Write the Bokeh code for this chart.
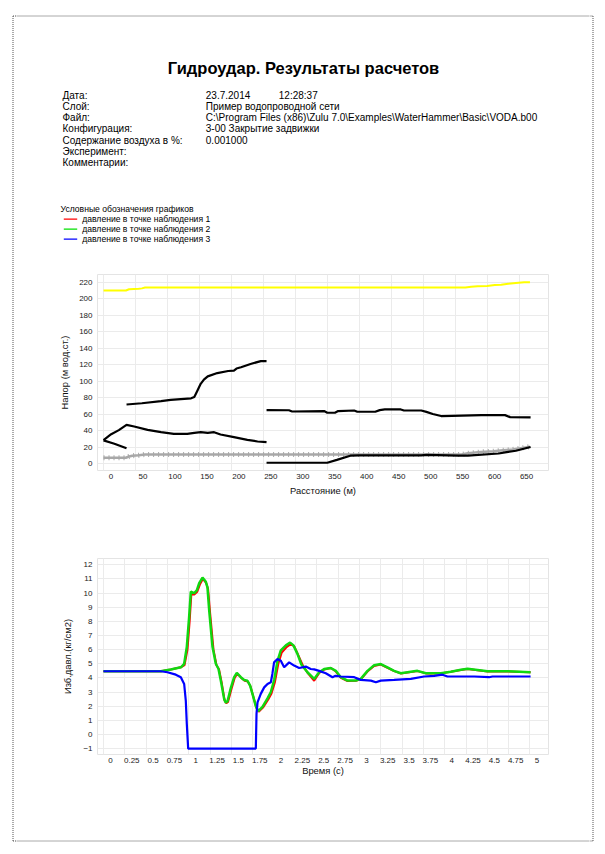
from bokeh.plotting import figure
from bokeh.layouts import row, column
from bokeh.models import Range1d, FixedTicker, LinearAxis, Grid
from bokeh.embed import file_html
from bokeh.resources import INLINE
from bokeh.core.properties import value

FONT = "Liberation Sans"

# ---------------- header data ----------------
title_text = "Гидроудар. Результаты расчетов"
info_labels = ["Дата:", "Слой:", "Файл:", "Конфигурация:", "Содержание воздуха в %:",
               "Эксперимент:", "Комментарии:"]
info_values = ["23.7.2014", "Пример водопроводной сети",
               "C:\\Program Files (x86)\\Zulu 7.0\\Examples\\WaterHammer\\Basic\\VODA.b00",
               "3-00 Закрытие задвижки", "0.001000", "", ""]
info_time = "12:28:37"
legend_title = "Условные обозначения графиков"
legend_labels = ["давление в точке наблюдения 1", "давление в точке наблюдения 2",
                 "давление в точке наблюдения 3"]
legend_colors = ["#ff0000", "#00e000", "#0000ff"]

# ---------------- top chart data (Напор vs Расстояние) ----------------
x_ticks_top = [0, 50, 100, 150, 200, 250, 300, 350, 400, 450, 500, 550, 600, 650]
y_ticks_top = [0, 20, 40, 60, 80, 100, 120, 140, 160, 180, 200, 220]

yellow_x = [0, 35, 40, 55, 60, 65, 300, 566, 575, 585, 600, 612, 622, 633, 645, 658, 667]
yellow_y = [210, 210, 211.5, 212, 212.5, 213.5, 213.5, 213.5, 214.5, 215, 215.5, 216.5, 217, 218, 219, 220, 220]

gray_x = [0, 35, 40, 45, 55, 65, 300, 560, 570, 590, 610, 625, 640, 655, 667]
gray_y = [7.5, 7.5, 9, 10, 10.5, 11.5, 11.5, 11.5, 13, 14.5, 15.5, 16.5, 17.5, 19.5, 21]

black_a_x = [0, 17, 36]
black_a_y = [28.5, 24.5, 19]

black_b_x = [0, 12, 24, 36, 48, 69, 90, 110, 131, 142, 152, 163, 173, 183, 204, 225, 241, 255]
black_b_y = [29, 36, 41, 47.4, 45.4, 41.3, 38.5, 36.5, 36.5, 37.7, 38.5, 37.7, 38.5, 35.7, 32.5, 29.2, 27.2, 26.4]

black_c_x = [36, 60, 90, 105, 137, 142, 147, 152, 157, 163, 178, 195, 204, 208, 215, 230, 246, 255]
black_c_y = [72, 73.5, 76, 77.5, 79.5, 81, 89, 97, 102, 106, 110, 112.5, 113, 115.5, 117, 121, 124.5, 124.5]

black_d_x = [255, 290, 295, 345, 350, 362, 367, 392, 397, 425, 432, 440, 465, 470, 497, 505, 515,
             528, 545, 591, 628, 636, 668]
black_d_y = [65.2, 65, 63.5, 64, 62, 62, 64, 64.7, 63.2, 63.2, 65.2, 66, 66, 64.7, 64.7, 63, 60.5,
             58, 58.3, 59.1, 59.1, 56.7, 56.3]

black_e_x = [255, 350, 365, 386, 400, 497, 505, 555, 570, 618, 628, 645, 668]
black_e_y = [1.5, 1.5, 5, 10, 10.3, 10.3, 11, 10, 10, 12.7, 14, 16, 20.5]

# ---------------- bottom chart data (Изб.давл. vs Время) ----------------
x_ticks_bot = [0, 0.25, 0.5, 0.75, 1, 1.25, 1.5, 1.75, 2, 2.25, 2.5, 2.75, 3, 3.25, 3.5, 3.75,
               4, 4.25, 4.5, 4.75, 5]
x_tick_labels_bot = ["0", "0.25", "0.5", "0.75", "1", "1.25", "1.5", "1.75", "2", "2.25", "2.5",
                     "2.75", "3", "3.25", "3.5", "3.75", "4", "4.25", "4.5", "4.75", "5"]
y_ticks_bot = [-1, 0, 1, 2, 3, 4, 5, 6, 7, 8, 9, 10, 11, 12]

green_t = [0, 0.672, 0.789, 0.907, 0.946, 0.977, 1.004, 1.024, 1.063, 1.094, 1.122, 1.161, 1.2,
           1.219, 1.239, 1.278, 1.317, 1.348, 1.376, 1.415, 1.434, 1.454, 1.493, 1.532, 1.563,
           1.61, 1.649, 1.688, 1.719, 1.759, 1.786, 1.813, 1.864, 1.923, 1.962, 2.001, 2.04,
           2.079, 2.138, 2.188, 2.227, 2.274, 2.32, 2.391, 2.47, 2.528, 2.587, 2.665, 2.724,
           2.782, 2.861, 2.958, 3.017, 3.095, 3.173, 3.251, 3.329, 3.407, 3.485, 3.564, 3.681,
           3.779, 3.955, 4.072, 4.19, 4.268, 4.385, 4.502, 4.737, 5.007]
green_p = [4.47, 4.47, 4.6, 4.75, 5.0, 6.2, 8.3, 10.1, 10.0, 10.2, 10.7, 11.1, 10.8,
           10.4, 8.8, 6.2, 5.0, 4.65, 3.8, 2.5, 2.25, 2.35, 3.3, 4.05, 4.35,
           4.05, 3.85, 3.8, 3.45, 2.6, 2.0, 1.65, 1.95, 2.55, 3.0, 3.85, 5.2,
           5.95, 6.3, 6.5, 6.3, 5.7, 4.95, 4.4, 3.93, 4.4, 4.63, 4.7, 4.5,
           4.05, 3.81, 3.81, 3.93, 4.5, 4.9, 4.98, 4.75, 4.5, 4.33, 4.4, 4.5,
           4.33, 4.33, 4.44, 4.58, 4.65, 4.56, 4.47, 4.47, 4.4]

red_t = [0, 0.672, 0.789, 0.907, 0.95, 0.985, 1.01, 1.03, 1.065, 1.1, 1.13, 1.165, 1.205,
         1.226, 1.25, 1.29, 1.325, 1.355, 1.385, 1.42, 1.44, 1.46, 1.5, 1.538, 1.568,
         1.615, 1.655, 1.692, 1.724, 1.764, 1.792, 1.82, 1.87, 1.93, 1.97, 2.01, 2.05,
         2.09, 2.15, 2.2, 2.24, 2.285, 2.34, 2.4, 2.47, 2.53, 2.59, 2.665, 2.724,
         2.782, 2.861, 2.958, 3.017, 3.095, 3.173, 3.251, 3.329, 3.407, 3.485, 3.564, 3.681,
         3.779, 3.955, 4.072, 4.19, 4.268, 4.385, 4.502, 4.737, 5.007]
red_p = [4.47, 4.47, 4.6, 4.75, 4.9, 6.0, 8.0, 9.9, 9.9, 10.1, 10.6, 11.0, 10.7,
         10.3, 8.6, 6.0, 4.9, 4.6, 3.7, 2.4, 2.2, 2.3, 3.2, 4.0, 4.3,
         4.0, 3.8, 3.75, 3.4, 2.5, 1.9, 1.6, 1.9, 2.45, 2.9, 3.7, 5.0,
         5.8, 6.2, 6.4, 6.2, 5.6, 4.85, 4.3, 3.8, 4.35, 4.6, 4.7, 4.45,
         4.0, 3.78, 3.8, 3.9, 4.45, 4.85, 4.95, 4.72, 4.48, 4.32, 4.38, 4.48,
         4.32, 4.32, 4.43, 4.56, 4.63, 4.55, 4.46, 4.46, 4.4]

blue_t = [0, 0.672, 0.75, 0.848, 0.907, 0.946, 0.965, 0.977, 0.993, 1.786, 1.794, 1.806, 1.844,
          1.884, 1.923, 1.962, 1.98, 2.0, 2.04, 2.079, 2.118, 2.177, 2.235, 2.294, 2.372, 2.43,
          2.47, 2.528, 2.606, 2.685, 2.72, 2.782, 2.94, 3.017, 3.134, 3.193, 3.251, 3.407,
          3.603, 3.759, 3.877, 3.974, 4.033, 4.346, 4.52, 4.56, 5.007]
blue_p = [4.47, 4.47, 4.4, 4.23, 4.05, 3.57, 2.4, 0.74, -1, -1, 1.45, 2.27, 2.87,
          3.33, 3.57, 3.69, 4.28, 5.1, 5.34, 5.22, 4.75, 5.1, 4.87, 4.7, 4.8, 4.63,
          4.6, 4.5, 4.33, 4.05, 4.15, 4.1, 4.05, 3.86, 3.81, 3.69, 3.81, 3.86,
          3.93, 4.1, 4.15, 4.23, 4.1, 4.1, 4.05, 4.1, 4.1]

# ---------------- page geometry (pixels, page origin at top-left) ----------------
LS, CW, RS = 16, 573, 11                     # left strip, centre column, right strip widths
H_HEAD, H_C1, H_MID, H_C2, H_FOOT = 262, 243, 41, 236, 68
H_TOTAL = H_HEAD + H_C1 + H_MID + H_C2 + H_FOOT
FRAME_W = 451
BORDER = dict(line_color="#555555", line_width=1, line_dash="1 1")


def blank(w, h):
    f = figure(width=w, height=h, x_range=Range1d(0, w), y_range=Range1d(h, 0),
               x_axis_location=None, y_axis_location=None, min_border=0,
               output_backend="svg", toolbar_location=None, frame_align=False)
    f.outline_line_color = None
    f.grid.visible = False
    f.background_fill_color = "white"
    f.border_fill_color = "white"
    return f


# ---------------- header ----------------
head = blank(CW, H_HEAD)
head.segment(x0=[0], y0=[15.5], x1=[CW], y1=[15.5], **BORDER)
head.text(x=[303 - LS], y=[67], text=[title_text], text_font=value(FONT), text_font_size="16.5px",
          text_font_style="bold", text_align="center", text_baseline="middle", text_color="black")
row_y = [94.5 + 11.3 * i for i in range(len(info_labels))]
head.text(x=[62 - LS] * len(info_labels), y=row_y, text=info_labels, text_font=value(FONT),
          text_font_size="10px", text_baseline="middle", text_color="black")
head.text(x=[205.3 - LS] * len(info_values), y=row_y, text=info_values, text_font=value(FONT),
          text_font_size="10px", text_baseline="middle", text_color="black")
head.text(x=[278.3 - LS], y=[row_y[0]], text=[info_time], text_font=value(FONT),
          text_font_size="10px", text_baseline="middle", text_color="black")
head.text(x=[60 - LS], y=[208.3], text=[legend_title], text_font=value(FONT), text_font_size="8.6px",
          text_baseline="middle", text_color="black")
leg_y = [218.7, 228.7, 238.7]
head.segment(x0=[63.3 - LS] * 3, y0=leg_y, x1=[76.7 - LS] * 3, y1=leg_y, line_color=legend_colors,
             line_width=1.2)
head.text(x=[81.7 - LS] * 3, y=leg_y, text=legend_labels, text_font=value(FONT), text_font_size="8.6px",
          text_baseline="middle", text_color="black")


def make_chart(height, top, bottom, xr, yr, xticks, label_shift_px):
    p = figure(width=CW, height=height, x_range=xr, y_range=yr, x_axis_location=None,
               min_border_left=81, min_border_right=CW - 81 - FRAME_W,
               min_border_top=top, min_border_bottom=bottom,
               output_backend="svg", toolbar_location=None, frame_align=False)
    p.outline_line_color = "#e4e4e4"
    p.background_fill_color = "white"
    p.border_fill_color = "white"
    # x axis labels sit just right of their grid line, as in the original print
    d = label_shift_px * (xr.end - xr.start) / FRAME_W
    p.extra_x_ranges = {"lab": Range1d(xr.start - d, xr.end - d)}
    xax = LinearAxis(x_range_name="lab", ticker=FixedTicker(ticks=xticks))
    p.add_layout(xax, "below")
    p.add_layout(Grid(dimension=0, ticker=FixedTicker(ticks=xticks), grid_line_color="#ebebeb"))
    p.ygrid.grid_line_color = "#ebebeb"
    for ax in (xax, p.yaxis[0]):
        ax.axis_line_color = None
        ax.major_tick_line_color = None
        ax.minor_tick_line_color = None
        ax.major_tick_in = 0
        ax.major_tick_out = 0
        ax.major_label_text_font = FONT
        ax.major_label_text_font_size = "8px"
        ax.major_label_text_color = "#222222"
        ax.axis_label_text_font = FONT
        ax.axis_label_text_font_size = "9.4px"
        ax.axis_label_text_font_style = "normal"
        ax.axis_label_text_color = "#111111"
    xax.major_label_standoff = 3
    p.yaxis[0].major_label_standoff = 5
    return p, xax


# ---------------- top chart ----------------
c1, c1x = make_chart(H_C1, 12, 35, Range1d(-9.4, 696), Range1d(-7.9, 229.3), x_ticks_top, 7.5)
c1x.axis_label = "Расстояние (м)"
c1x.axis_label_standoff = 3
c1.yaxis[0].axis_label = "Напор (м вод.ст.)"
c1.yaxis[0].axis_label_standoff = 6
c1.yaxis[0].ticker = FixedTicker(ticks=y_ticks_top)

c1.line(yellow_x, yellow_y, line_color="#ffff00", line_width=2)
c1.line(gray_x, gray_y, line_color="#a8a8a8", line_width=2.5)
c1.line(gray_x, gray_y, line_color="#a8a8a8", line_width=5, line_dash="1 4")
for xs, ys in ((black_a_x, black_a_y), (black_b_x, black_b_y), (black_c_x, black_c_y),
               (black_d_x, black_d_y), (black_e_x, black_e_y)):
    c1.line(xs, ys, line_color="black", line_width=2.2)

mid = blank(CW, H_MID)

# ---------------- bottom chart ----------------
c2, c2x = make_chart(H_C2, 12, 28, Range1d(-0.07, 5.217), Range1d(-1.42, 12.45), x_ticks_bot, 7)
c2x.axis_label = "Время (с)"
c2x.axis_label_standoff = -1
c2x.major_label_overrides = {float(t): s for t, s in zip(x_ticks_bot, x_tick_labels_bot)}
c2.yaxis[0].axis_label = "Изб.давл.(кг/см2)"
c2.yaxis[0].axis_label_standoff = 7
c2.yaxis[0].ticker = FixedTicker(ticks=y_ticks_bot)

c2.line(red_t, red_p, line_color="#ff0000", line_width=2)
c2.line(green_t, green_p, line_color="#10d810", line_width=2.5)
c2.line(blue_t, blue_p, line_color="#0000ff", line_width=2.2)

# ---------------- footer and side strips (dotted page border) ----------------
foot = blank(CW, H_FOOT)
foot.segment(x0=[0], y0=[840.5 - (H_TOTAL - H_FOOT)], x1=[CW], y1=[840.5 - (H_TOTAL - H_FOOT)], **BORDER)

left = blank(LS, H_TOTAL)
left.segment(x0=[12.5, 12.5, 12.5], y0=[15.5, 15.5, 840.5], x1=[12.5, LS, LS], y1=[840.5, 15.5, 840.5], **BORDER)
right = blank(RS, H_TOTAL)
right.segment(x0=[3.5, 0, 0], y0=[15.5, 15.5, 840.5], x1=[3.5, 3.5, 3.5], y1=[840.5, 15.5, 840.5], **BORDER)

page = row(left, column(head, c1, mid, c2, foot), right)
open("out.html", "w").write(file_html(page, INLINE))
